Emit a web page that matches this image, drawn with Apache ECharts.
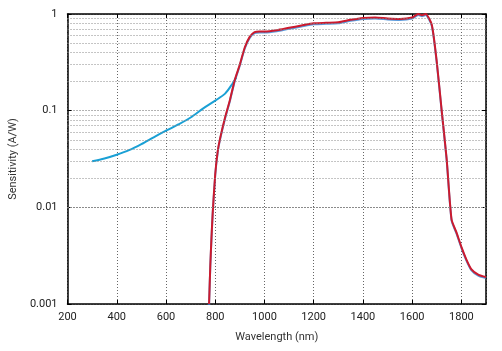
<!DOCTYPE html>
<html>
<head>
<meta charset="utf-8">
<script src="https://cdn.jsdelivr.net/npm/echarts@6/dist/echarts.min.js"></script>
<style>
  html, body { margin: 0; padding: 0; background: #fff; }
  #chart { width: 502px; height: 351px; }
</style>
</head>
<body>
<div id="chart"></div>
<script>
// Si photodiode (cyan)
const siWavelength = [300, 350, 400, 450, 500, 550, 600, 650, 700, 750, 800, 840, 870, 885];
const siSensitivity = [0.030, 0.032, 0.035, 0.039, 0.045, 0.053, 0.062, 0.072, 0.085, 0.105, 0.127, 0.15, 0.19, 0.22];

// InGaAs photodiode (red)
const ingaasWavelength = [775, 780, 785, 790, 800, 810, 820, 840, 860, 880, 900, 920, 940, 960, 980, 1000,
  1050, 1100, 1150, 1200, 1250, 1300, 1350, 1400, 1450, 1500, 1550, 1600, 1625, 1640, 1655, 1680,
  1700, 1720, 1740, 1760, 1780, 1800, 1820, 1840, 1870, 1900];
const ingaasSensitivity = [0.001, 0.0025, 0.005, 0.009, 0.022, 0.038, 0.052, 0.085, 0.13, 0.21, 0.30, 0.45, 0.58, 0.65, 0.66, 0.66,
  0.68, 0.72, 0.76, 0.80, 0.81, 0.82, 0.87, 0.91, 0.92, 0.90, 0.89, 0.92, 1.0, 0.97, 1.0, 0.77,
  0.32, 0.10, 0.032, 0.0075, 0.0055, 0.0039, 0.0029, 0.0023, 0.0020, 0.0019];

const minorGridValues = [0.002, 0.003, 0.004, 0.005, 0.006, 0.007, 0.008, 0.009,
  0.02, 0.03, 0.04, 0.05, 0.06, 0.07, 0.08, 0.09,
  0.2, 0.3, 0.4, 0.5, 0.6, 0.7, 0.8, 0.9];

const font = 'Roboto, "Open Sans", sans-serif';
const chart = echarts.init(document.getElementById('chart'));

const pairs = (xs, ys) => xs.map((x, i) => [x, ys[i]]);

chart.setOption({
  animation: false,
  backgroundColor: '#fff',
  grid: { left: 64, right: 16, top: 14, bottom: 47 },
  xAxis: [
    {
      type: 'value',
      min: 200,
      max: 1900,
      interval: 200,
      position: 'bottom',
      name: 'Wavelength (nm)',
      nameLocation: 'middle',
      nameGap: 28,
      nameTextStyle: { color: '#333', fontSize: 11, fontFamily: font },
      axisLine: { lineStyle: { color: '#000', width: 1.5 } },
      axisTick: { inside: true, length: 4, lineStyle: { color: '#000' } },
      axisLabel: { color: '#222', fontSize: 11, fontFamily: font, margin: 8, showMaxLabel: false, formatter: v => String(v) },
      splitLine: { show: true, lineStyle: { color: '#666', type: [1, 2], width: 1 } }
    },
    {
      type: 'value',
      min: 200,
      max: 1900,
      interval: 200,
      position: 'top',
      axisLine: { lineStyle: { color: '#000', width: 1.5 } },
      axisTick: { inside: true, length: 4, lineStyle: { color: '#000' } },
      axisLabel: { show: false },
      splitLine: { show: false }
    }
  ],
  yAxis: [
    {
      type: 'log',
      logBase: 10,
      min: 0.001,
      max: 1,
      position: 'left',
      name: 'Sensitivity (A/W)',
      nameLocation: 'middle',
      nameGap: 42,
      nameTextStyle: { color: '#333', fontSize: 11, fontFamily: font },
      axisLine: { lineStyle: { color: '#000', width: 1.5 } },
      axisTick: { inside: true, length: 4, lineStyle: { color: '#000' } },
      axisLabel: {
        color: '#222', fontSize: 11, fontFamily: font, margin: 10,
        formatter: v => String(+v.toPrecision(3))
      },
      splitLine: { show: true, lineStyle: { color: '#666', type: [1, 2], width: 1 } }
    },
    {
      type: 'log',
      logBase: 10,
      min: 0.001,
      max: 1,
      position: 'right',
      axisLine: { lineStyle: { color: '#000', width: 1.5 } },
      axisTick: { inside: true, length: 4, lineStyle: { color: '#000' } },
      axisLabel: { show: false },
      splitLine: { show: false }
    }
  ],
  series: [
    {
      name: 'Si',
      type: 'line',
      data: pairs(siWavelength, siSensitivity),
      smooth: 0.3,
      symbol: 'none',
      lineStyle: { color: '#1aa0d5', width: 2 },
      markLine: {
        silent: true,
        symbol: 'none',
        label: { show: false },
        lineStyle: { color: '#8a8a8a', type: [1, 2], width: 1 },
        data: minorGridValues.map(v => ({ yAxis: v }))
      },
      z: 3
    },
    {
      name: 'InGaAs',
      type: 'line',
      data: pairs(ingaasWavelength, ingaasSensitivity),
      smooth: 0.2,
      symbol: 'none',
      lineStyle: {
        color: '#cc1a2e',
        width: 2,
        shadowColor: 'rgba(50,130,210,0.8)',
        shadowOffsetY: 1,
        shadowBlur: 0
      },
      z: 4
    }
  ]
});
</script>
</body>
</html>
